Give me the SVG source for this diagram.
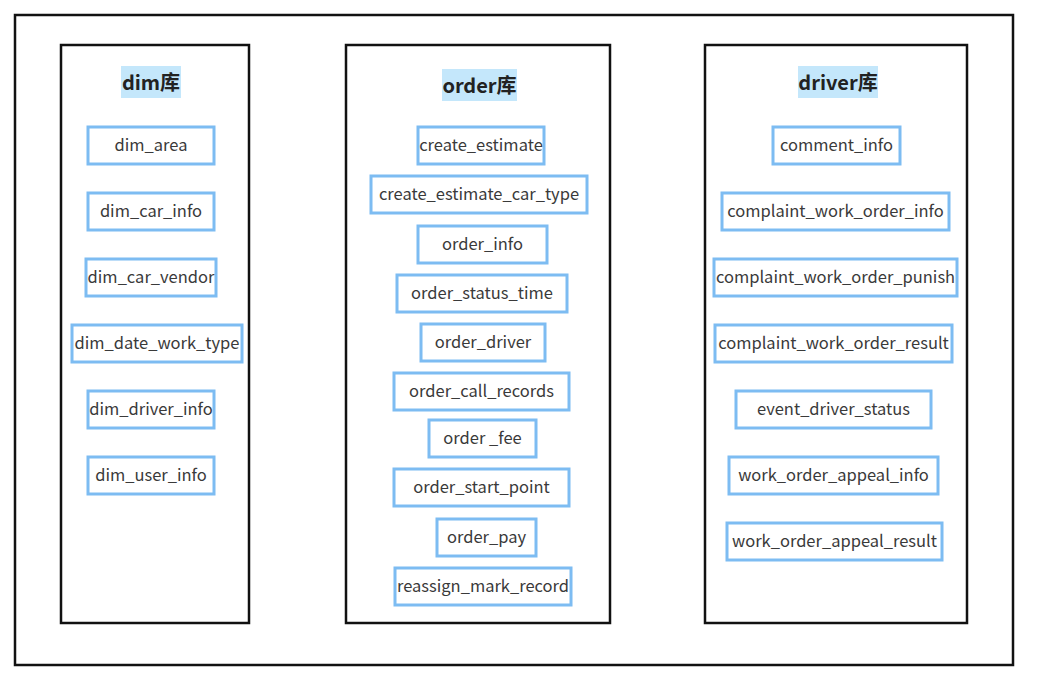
<svg xmlns="http://www.w3.org/2000/svg" width="1047" height="681" viewBox="0 0 1047 681">
<style>
.frame{fill:#fff;stroke:#111;stroke-width:2.5}
.tbl{fill:#fff;stroke:#7dbcf2;stroke-width:3}
.lbl{font-family:"Noto Sans CJK SC","Noto Sans",sans-serif;font-size:16.5px;fill:#3a3a3a;text-anchor:middle;dominant-baseline:central}
.ttl{font-family:"Noto Sans CJK SC","Noto Sans",sans-serif;font-size:20px;font-weight:bold;fill:#222;text-anchor:middle;dominant-baseline:central}
.hl{fill:#c4e7fb}
</style>
<rect width="1047" height="681" fill="#fff"/>
<rect class="frame" x="15" y="15" width="998" height="650"/>
<g id="dim">
<rect class="frame" x="61" y="45" width="188" height="578"/>
<rect class="hl" x="121" y="66" width="60" height="32"/>
<text class="ttl" x="151" y="81">dim库</text>
</g>
<g id="order">
<rect class="frame" x="346" y="45" width="264" height="578"/>
<rect class="hl" x="442" y="69" width="75" height="32"/>
<text class="ttl" x="479.5" y="84">order库</text>
</g>
<g id="driver">
<rect class="frame" x="705" y="45" width="262" height="578"/>
<rect class="hl" x="798" y="66" width="80" height="32"/>
<text class="ttl" x="838" y="81">driver库</text>
</g>
<g id="dim_area"><rect class="tbl" x="88" y="127" width="126" height="37"/><text class="lbl" x="151" y="144">dim_area</text></g>
<g id="dim_car_info"><rect class="tbl" x="88" y="193" width="126" height="37"/><text class="lbl" x="151" y="210">dim_car_info</text></g>
<g id="dim_car_vendor"><rect class="tbl" x="86" y="259" width="130" height="37"/><text class="lbl" x="151" y="276">dim_car_vendor</text></g>
<g id="dim_date_work_type"><rect class="tbl" x="72" y="325" width="170" height="37"/><text class="lbl" x="157" y="342">dim_date_work_type</text></g>
<g id="dim_driver_info"><rect class="tbl" x="88" y="391" width="126" height="37"/><text class="lbl" x="151" y="408">dim_driver_info</text></g>
<g id="dim_user_info"><rect class="tbl" x="88" y="457" width="126" height="37"/><text class="lbl" x="151" y="474">dim_user_info</text></g>
<g id="create_estimate"><rect class="tbl" x="418" y="127" width="126" height="37"/><text class="lbl" x="481" y="144">create_estimate</text></g>
<g id="create_estimate_car_type"><rect class="tbl" x="371" y="176" width="216" height="37"/><text class="lbl" x="479" y="193">create_estimate_car_type</text></g>
<g id="order_info"><rect class="tbl" x="418" y="226" width="129" height="37"/><text class="lbl" x="482.5" y="243">order_info</text></g>
<g id="order_status_time"><rect class="tbl" x="397" y="275" width="170" height="37"/><text class="lbl" x="482" y="292">order_status_time</text></g>
<g id="order_driver"><rect class="tbl" x="421" y="324" width="124" height="37"/><text class="lbl" x="483" y="341">order_driver</text></g>
<g id="order_call_records"><rect class="tbl" x="394" y="373" width="175" height="37"/><text class="lbl" x="481.5" y="390">order_call_records</text></g>
<g id="order_fee"><rect class="tbl" x="429" y="420" width="107" height="37"/><text class="lbl" x="482.5" y="437">order _fee</text></g>
<g id="order_start_point"><rect class="tbl" x="394" y="469" width="175" height="37"/><text class="lbl" x="481.5" y="486">order_start_point</text></g>
<g id="order_pay"><rect class="tbl" x="437" y="519" width="99" height="37"/><text class="lbl" x="486.5" y="536">order_pay</text></g>
<g id="reassign_mark_record"><rect class="tbl" x="395" y="568" width="176" height="37"/><text class="lbl" x="483" y="585">reassign_mark_record</text></g>
<g id="comment_info"><rect class="tbl" x="773" y="127" width="127" height="37"/><text class="lbl" x="836.5" y="144">comment_info</text></g>
<g id="complaint_work_order_info"><rect class="tbl" x="722" y="193" width="227" height="37"/><text class="lbl" x="835.5" y="210">complaint_work_order_info</text></g>
<g id="complaint_work_order_punish"><rect class="tbl" x="714" y="259" width="243" height="37"/><text class="lbl" x="835.5" y="276">complaint_work_order_punish</text></g>
<g id="complaint_work_order_result"><rect class="tbl" x="715" y="325" width="237" height="37"/><text class="lbl" x="833.5" y="342">complaint_work_order_result</text></g>
<g id="event_driver_status"><rect class="tbl" x="736" y="391" width="195" height="37"/><text class="lbl" x="833.5" y="408">event_driver_status</text></g>
<g id="work_order_appeal_info"><rect class="tbl" x="729" y="457" width="209" height="37"/><text class="lbl" x="833.5" y="474">work_order_appeal_info</text></g>
<g id="work_order_appeal_result"><rect class="tbl" x="727" y="523" width="215" height="37"/><text class="lbl" x="834.5" y="540">work_order_appeal_result</text></g>
<g id="connectors"></g>
</svg>
